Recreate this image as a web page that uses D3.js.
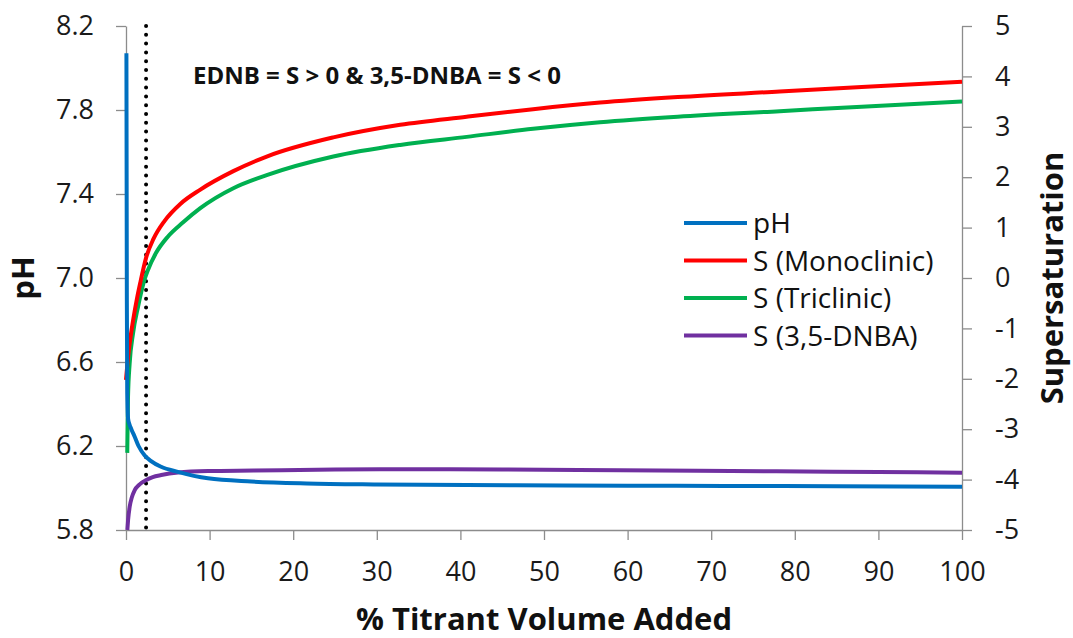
<!DOCTYPE html>
<html>
<head>
<meta charset="utf-8">
<script src="https://cdn.jsdelivr.net/npm/d3@7"></script>
<style>
  html, body { margin: 0; padding: 0; background: #fff; }
  svg { display: block; font-family: "Open Sans", "Noto Sans", sans-serif; }
</style>
</head>
<body>
<svg id="chart" width="1073" height="638"></svg>
<script>
// Titration of the EDNB / 3,5-DNBA system: pH (left axis) and supersaturation (right axis)
// versus percentage of titrant volume added.

// pH curve
const phX = [0.05, 0.1, 0.15, 0.25, 0.4, 0.64, 1.04, 1.5, 2.24, 3.0, 4.2, 6.2, 9.8, 15, 21.6, 30, 46.6, 60, 71.6, 85, 100];
const phY = [8.07, 6.9, 6.45, 6.33, 6.305, 6.28, 6.244, 6.2, 6.155, 6.128, 6.101, 6.077, 6.046, 6.031, 6.022, 6.017, 6.013, 6.011, 6.010, 6.008, 6.006];

// Supersaturation, monoclinic EDNB
const monoX = [0, 0.16, 0.44, 0.84, 1.3, 1.7, 2.4, 3.3, 4.6, 6.5, 8.85, 12.84, 16.83, 24.8, 32.8, 40.75, 48.7, 56.7, 66, 78.2, 88, 100];
const monoY = [-2.02, -1.72, -1.3, -0.85, -0.42, -0.1, 0.4, 0.78, 1.13, 1.47, 1.75, 2.12, 2.41, 2.79, 3.04, 3.20, 3.35, 3.48, 3.59, 3.70, 3.79, 3.895];

// Supersaturation, triclinic EDNB
const triX = [0.15, 0.24, 0.44, 0.84, 1.44, 2.2, 2.63, 3.6, 5.0, 6.8, 8.85, 12.84, 16.83, 24.8, 32.8, 40.75, 48.7, 56.7, 66, 78.2, 88, 100];
const triY = [-3.47, -2.36, -1.69, -1.1, -0.57, -0.04, 0.16, 0.5, 0.82, 1.1, 1.38, 1.78, 2.04, 2.41, 2.64, 2.80, 2.96, 3.09, 3.2, 3.31, 3.40, 3.50];

// Supersaturation, 3,5-DNBA
const dnbaX = [0.16, 0.25, 0.44, 0.7, 1.04, 1.6, 2.43, 3.2, 4.22, 6.22, 9.81, 15.3, 25, 34.1, 45, 59.1, 77.8, 90, 100];
const dnbaY = [-5.0, -4.8, -4.54, -4.35, -4.21, -4.1, -4.01, -3.95, -3.91, -3.86, -3.83, -3.82, -3.80, -3.796, -3.80, -3.816, -3.836, -3.85, -3.863];

// Dotted marker position (% titrant)
const markerX = 2.4;

// Axis ticks
const xTicks = [0, 10, 20, 30, 40, 50, 60, 70, 80, 90, 100];
const phTicks = [5.8, 6.2, 6.6, 7.0, 7.4, 7.8, 8.2];
const sTicks = [-5, -4, -3, -2, -1, 0, 1, 2, 3, 4, 5];

const seriesNames = ["pH", "S (Monoclinic)", "S (Triclinic)", "S (3,5-DNBA)"];
const seriesColors = ["#0070C0", "#FF0000", "#00B050", "#7030A0"];
const annotation = "EDNB = S > 0 & 3,5-DNBA = S < 0";

const svg = d3.select("#chart");
const W = 1073, H = 638;
const margin = { left: 126, right: 111, top: 26, bottom: 108 };

const x = d3.scaleLinear().domain([0, 100]).range([margin.left, W - margin.right]);
const yPH = d3.scaleLinear().domain([5.8, 8.2]).range([H - margin.bottom, margin.top]);
const yS = d3.scaleLinear().domain([-5, 5]).range([H - margin.bottom, margin.top]);

const axisColor = "#8c8c8c";
const tickFont = 27;

function styleAxis(g) {
  g.select(".domain").attr("stroke", axisColor).attr("stroke-width", 1.3);
  g.selectAll(".tick line").attr("stroke", axisColor).attr("stroke-width", 1.3);
  g.selectAll(".tick text")
    .attr("fill", "#1a1a1a")
    .style("font-size", tickFont + "px")
    .style("font-family", "'Open Sans', sans-serif");
}

// Bottom axis
svg.append("g")
  .attr("transform", `translate(0,${H - margin.bottom})`)
  .call(d3.axisBottom(x).tickValues(xTicks).tickSize(10).tickPadding(22).tickSizeOuter(0).tickFormat(d => String(d)))
  .call(styleAxis);

// Left axis (pH)
svg.append("g")
  .attr("transform", `translate(${margin.left},0)`)
  .call(d3.axisLeft(yPH).tickValues(phTicks).tickSize(10).tickPadding(22).tickSizeOuter(0).tickFormat(d3.format(".1f")))
  .call(styleAxis);

// Right axis (supersaturation); plain hyphen for negatives
svg.append("g")
  .attr("transform", `translate(${W - margin.right},0)`)
  .call(d3.axisRight(yS).tickValues(sTicks).tickSize(10).tickPadding(23).tickSizeOuter(0).tickFormat(d => String(d)))
  .call(styleAxis);

// Dotted marker line
svg.append("line")
  .attr("x1", x(markerX)).attr("x2", x(markerX))
  .attr("y1", yPH.range()[1]).attr("y2", yPH.range()[0])
  .attr("stroke", "#000")
  .attr("stroke-width", 4)
  .attr("stroke-linecap", "round")
  .attr("stroke-dasharray", "0,8.8");

// Curves
const curve = d3.curveMonotoneX;
function drawLine(xs, ys, yScale, color) {
  const pts = xs.map((v, i) => [v, ys[i]]);
  svg.append("path")
    .datum(pts)
    .attr("fill", "none")
    .attr("stroke", color)
    .attr("stroke-width", 4)
    .attr("stroke-linejoin", "round")
    .attr("d", d3.line().x(d => x(d[0])).y(d => yScale(d[1])).curve(curve));
}

drawLine(dnbaX, dnbaY, yS, seriesColors[3]);
drawLine(triX, triY, yS, seriesColors[2]);
drawLine(monoX, monoY, yS, seriesColors[1]);
drawLine(phX, phY, yPH, seriesColors[0]);

// Annotation
svg.append("text")
  .attr("x", 193).attr("y", 84)
  .style("font-size", "24px")
  .style("font-weight", "bold")
  .attr("fill", "#111")
  .text(annotation);

// Legend
const legend = svg.append("g").attr("transform", "translate(684,223)");
seriesNames.forEach((name, i) => {
  const row = legend.append("g").attr("transform", `translate(0,${i * 37.5})`);
  row.append("line")
    .attr("x1", 0).attr("x2", 63)
    .attr("stroke", seriesColors[i]).attr("stroke-width", 4);
  row.append("text")
    .attr("x", 69).attr("y", 0).attr("dy", "0.36em")
    .style("font-size", "28px")
    .attr("fill", "#111")
    .text(name);
});

// Axis titles
svg.append("text")
  .attr("x", (x.range()[0] + x.range()[1]) / 2)
  .attr("y", 630)
  .attr("text-anchor", "middle")
  .style("font-size", "31px")
  .style("font-weight", "bold")
  .attr("fill", "#111")
  .text("% Titrant Volume Added");

svg.append("text")
  .attr("transform", `translate(34,${(yPH.range()[0] + yPH.range()[1]) / 2}) rotate(-90)`)
  .attr("text-anchor", "middle")
  .style("font-size", "31px")
  .style("font-weight", "bold")
  .attr("fill", "#111")
  .text("pH");

svg.append("text")
  .attr("transform", `translate(1063,${(yS.range()[0] + yS.range()[1]) / 2}) rotate(-90)`)
  .attr("text-anchor", "middle")
  .style("font-size", "31px")
  .style("font-weight", "bold")
  .attr("fill", "#111")
  .text("Supersaturation");
</script>
</body>
</html>
